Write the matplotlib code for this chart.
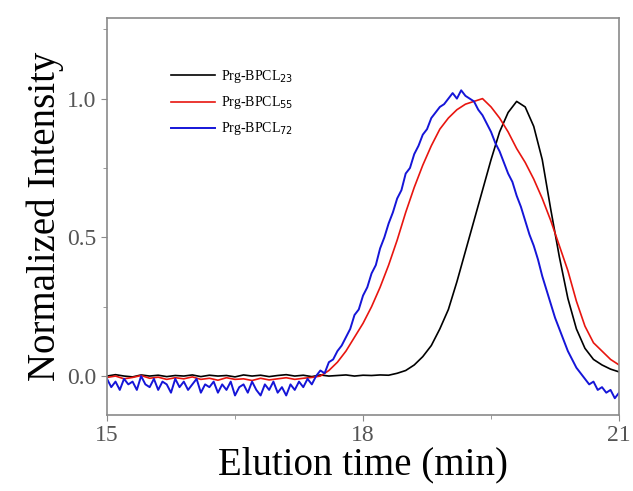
import matplotlib
matplotlib.use('Agg')
import matplotlib.pyplot as plt
import numpy as np
from matplotlib.ticker import MultipleLocator

# elution time grids (min)
time_coarse = np.round(np.arange(15.0, 21.0001, 0.1), 2)
time_fine = np.round(np.arange(15.0, 21.0001, 0.05), 2)

labels = ['Prg-BPCL$_{23}$', 'Prg-BPCL$_{55}$', 'Prg-BPCL$_{72}$']

# Prg-BPCL23 (black), sampled every 0.1 min
black_vals = [
    0.0, 0.005, 0.0, -0.003, 0.004, 0.0, 0.003, -0.002, 0.002, 0.0,
    0.004, -0.002, 0.003, 0.0, 0.002, -0.003, 0.004, 0.0, 0.003, -0.002,
    0.002, 0.005, 0.0, 0.003, -0.002, 0.004, 0.0, 0.002, 0.004, 0.0,
    0.003, 0.002, 0.004,
    0.003, 0.01, 0.02, 0.04, 0.07, 0.11, 0.17, 0.24, 0.34, 0.45,
    0.56, 0.67, 0.78, 0.88, 0.95, 0.99, 0.97, 0.90, 0.78, 0.60,
    0.43, 0.28, 0.17, 0.10, 0.06, 0.04, 0.025, 0.015,
]

# Prg-BPCL55 (red), sampled every 0.1 min
red_vals = [
    -0.005, 0.0, -0.01, -0.005, 0.002, -0.008, -0.004, -0.012, -0.006, -0.01,
    -0.003, -0.012, -0.008, -0.015, -0.006, -0.012, -0.01, -0.016, -0.008, -0.014,
    -0.01, -0.006, -0.012, -0.008, -0.005,
    0.0, 0.02, 0.05, 0.09, 0.14, 0.19, 0.25, 0.32, 0.40, 0.49,
    0.59, 0.68, 0.76, 0.83, 0.89, 0.93, 0.96, 0.98, 0.99, 1.0,
    0.97, 0.93, 0.88, 0.82, 0.77, 0.71, 0.64, 0.56, 0.47, 0.38,
    0.27, 0.18, 0.12, 0.09, 0.06, 0.04,
]

# Prg-BPCL72 (blue), sampled every 0.05 min
blue_vals = [
    -0.01, -0.04, -0.02, -0.05, -0.01, -0.03, -0.02, -0.05, 0.0, -0.03,
    -0.04, -0.01, -0.05, -0.02, -0.03, -0.06, -0.01, -0.04, -0.02, -0.05,
    -0.03, -0.01, -0.06, -0.03, -0.04, -0.02, -0.06, -0.03, -0.05, -0.02,
    -0.07, -0.04, -0.03, -0.06, -0.02, -0.05, -0.07, -0.03, -0.05, -0.02,
    -0.06, -0.04, -0.07, -0.03, -0.05, -0.02, -0.04, -0.01, -0.03, 0.0,
    0.02, 0.01, 0.05, 0.06, 0.09, 0.11, 0.14, 0.17, 0.22, 0.24,
    0.29, 0.32, 0.37, 0.40, 0.46, 0.50, 0.55, 0.59, 0.64, 0.67,
    0.73, 0.75, 0.80, 0.83, 0.87, 0.89, 0.93, 0.95, 0.97, 0.98,
    1.00, 1.02, 1.00, 1.03, 1.01, 1.00, 0.99, 0.96, 0.94, 0.91,
    0.88, 0.84, 0.81, 0.77, 0.73, 0.70, 0.65, 0.61, 0.56, 0.51,
    0.47, 0.42, 0.36, 0.31, 0.26, 0.21, 0.17, 0.13, 0.09, 0.06,
    0.03, 0.01, -0.01, -0.03, -0.02, -0.05, -0.04, -0.06, -0.05, -0.08,
    -0.06,
]

plt.rcParams['font.family'] = 'Liberation Serif'

fig = plt.figure(figsize=(6.33, 4.91), dpi=100)
ax = fig.add_axes([0.169, 0.155, 0.809, 0.808])

ax.plot(time_coarse, black_vals, color='black', lw=1.2, label=labels[0])
ax.plot(time_coarse, red_vals, color='#e8150f', lw=1.2, label=labels[1])
ax.plot(time_fine, blue_vals, color='#1515d8', lw=1.4, label=labels[2])

ax.set_xlim(15, 21)
ax.set_ylim(-0.14, 1.29)
ax.xaxis.set_major_locator(MultipleLocator(3))
ax.xaxis.set_minor_locator(MultipleLocator(1.5))
ax.yaxis.set_major_locator(MultipleLocator(0.5))
ax.yaxis.set_minor_locator(MultipleLocator(0.25))
ax.yaxis.set_major_formatter(plt.FormatStrFormatter('%.1f'))

gray = '#8a8a8a'
for s in ax.spines.values():
    s.set_color(gray)
    s.set_linewidth(1.2)
ax.tick_params(which='both', direction='out', color=gray, labelcolor='#555555',
               labelsize=17)
ax.tick_params(which='major', length=4)
ax.tick_params(which='minor', length=3)

ax.set_xlabel('Elution time (min)', fontsize=28, labelpad=0)
ax.set_ylabel('Normalized Intensity', fontsize=28, labelpad=2)

ax.legend(loc='upper left', bbox_to_anchor=(0.1, 0.905), frameon=False,
          fontsize=10, handlelength=3.2, labelspacing=0.65, handletextpad=0.4)

fig.savefig('out.png', dpi=100)
